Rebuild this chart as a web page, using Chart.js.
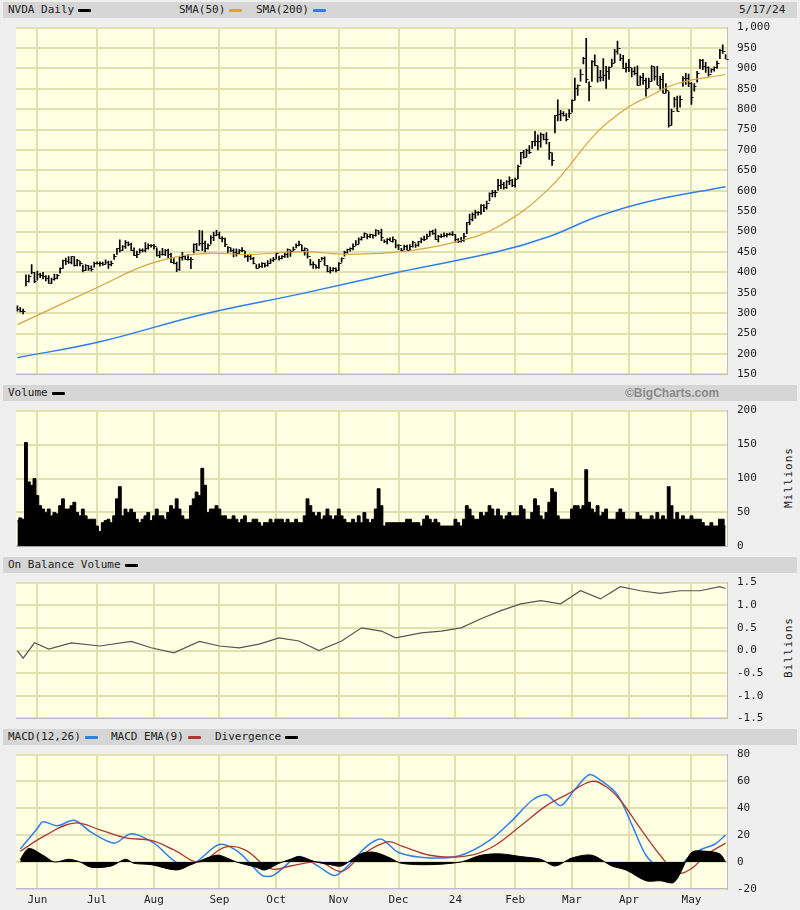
<!DOCTYPE html>
<html>
<head>
<meta charset="utf-8">
<script src="https://cdn.jsdelivr.net/npm/chart.js@4.4.1/dist/chart.umd.min.js"></script>
<style>
  body { margin:0; width:800px; height:910px; background:#efefef; position:relative; overflow:hidden;
         font-family:"DejaVu Sans Mono", monospace; font-size:11px; color:#222; }
  .hdr { position:absolute; left:3px; width:794px; height:16px; background:#d6d6d6; line-height:16px; }
  .hdr span { position:absolute; top:0; white-space:nowrap; }
  .sw { display:inline-block; width:13px; height:3px; vertical-align:middle; margin-left:4px; border-radius:1px; }
  .pan { position:absolute; left:0; width:800px; }
  .unit { position:absolute; left:782px; transform:rotate(-90deg); transform-origin:left top; font-size:11px; letter-spacing:1px; }
</style>
</head>
<body>
<div class="hdr" style="top:2px">
  <span style="left:5px">NVDA Daily<i class="sw" style="background:#000"></i></span>
  <span style="left:176px">SMA(50)<i class="sw" style="background:#d6a444"></i></span>
  <span style="left:253px">SMA(200)<i class="sw" style="background:#2f7fe8"></i></span>
  <span style="left:736px">5/17/24</span>
</div>
<div class="hdr" style="top:385px">
  <span style="left:5px">Volume<i class="sw" style="background:#000"></i></span>
  <span style="left:622px;font-family:Arial, sans-serif;font-weight:bold;color:#8a8a8a;font-size:12px">©BigCharts.com</span>
</div>
<div class="hdr" style="top:557px">
  <span style="left:5px">On Balance Volume<i class="sw" style="background:#000"></i></span>
</div>
<div class="hdr" style="top:729px">
  <span style="left:5px">MACD(12,26)<i class="sw" style="background:#2f7fe8"></i></span>
  <span style="left:108px">MACD EMA(9)<i class="sw" style="background:#a83a32"></i></span>
  <span style="left:212px">Divergence<i class="sw" style="background:#000"></i></span>
</div>
<div class="unit" style="top:508px">Millions</div>
<div class="unit" style="top:678px">Billions</div>

<canvas id="cPrice" class="pan" style="top:11px;height:380px" width="800" height="380"></canvas>
<canvas id="cVol" class="pan" style="top:394px;height:169px" width="800" height="169"></canvas>
<canvas id="cObv" class="pan" style="top:566px;height:169px" width="800" height="169"></canvas>
<canvas id="cMacd" class="pan" style="top:738px;height:174px" width="800" height="174"></canvas>

<script>
/* ── Datos: sesiones agrupadas por mes (may-23 .. may-24) ── */
const monthLabels = ['', 'Jun', 'Jul', 'Aug', 'Sep', 'Oct', 'Nov', 'Dec', '24', 'Feb', 'Mar', 'Apr', 'May'];

const closes = [
  [311,306,305,380,390,401,378],
  [397,393,391,386,375,385,387,394,410,430,427,426,439,419,430,422,406,419,411,408,423],
  [424,423,421,425,421,424,439,459,454,464,474,470,455,443,446,456,455,459,467,467],
  [465,442,445,446,454,446,425,423,408,437,439,434,433,432,469,456,471,471,460,468,487,492,493],
  [485,485,470,462,455,451,448,454,455,439,439,435,422,410,416,422,419,424,430,434],
  [447,435,440,446,457,452,457,468,469,454,460,439,421,421,413,429,436,418,403,405,411,407],
  [423,435,450,457,459,465,469,483,486,496,488,494,492,504,499,487,477,482,478,481,467],
  [467,455,465,455,465,475,466,476,481,483,488,501,496,481,489,488,492,494,495,495],
  [481,476,480,490,523,531,543,548,547,564,561,571,595,596,598,613,616,610,624,627,615],
  [630,662,694,683,700,696,721,723,721,739,726,726,694,675,785,788,791,787,776,791],
  [822,852,859,887,926,875,857,919,908,879,878,884,893,903,914,942,950,925,902,903],
  [903,894,889,859,880,871,853,870,906,881,860,874,840,846,762,795,824,796,826,877,877,864],
  [830,858,888,921,905,904,887,898,903,913,946,943,924]
];
const highs = [
  [318,314,310,394,394,419,400],
  [403,398,400,392,392,386,396,395,411,430,435,439,439,439,432,427,418,419,417,416,425],
  [426,426,425,431,428,428,444,459,480,466,478,475,472,460,452,458,458,473,470,468],
  [469,460,452,459,456,457,447,434,425,438,449,442,444,437,470,471,503,502,477,470,490,499,503],
  [499,488,484,463,460,458,458,456,461,452,442,443,437,419,421,424,423,429,433,437],
  [448,440,441,448,458,454,462,470,477,467,460,456,432,426,418,432,437,438,417,413,412,411],
  [424,436,452,457,460,470,478,485,488,497,494,494,493,505,502,506,480,483,485,487,479],
  [469,459,467,467,468,477,470,476,485,489,494,501,504,506,491,494,497,496,497,500],
  [492,483,486,496,523,543,546,553,549,566,566,575,595,601,601,628,627,621,625,634,628],
  [631,663,694,699,702,711,721,746,737,742,739,743,719,693,785,823,797,794,789,799],
  [823,876,860,897,927,974,867,919,933,906,895,924,905,904,923,947,967,935,932,913],
  [922,900,903,906,882,888,876,876,907,903,905,881,888,863,843,800,829,832,833,880,888,886],
  [865,863,893,922,922,915,904,899,904,918,947,958,934]
];
const lows = [
  [305,303,298,367,376,396,375],
  [381,387,384,379,373,373,381,384,398,410,419,422,421,415,416,416,401,404,405,403,413],
  [420,415,417,420,410,416,432,444,450,454,459,465,453,441,436,447,450,450,457,462],
  [457,440,436,442,441,434,424,421,402,405,430,432,430,409,448,453,466,453,450,457,469,478,490],
  [483,475,463,449,451,438,440,445,451,437,427,431,421,410,411,412,413,415,422,427],
  [433,430,433,437,437,439,451,460,465,453,442,435,418,410,410,410,430,417,401,398,403,401],
  [404,425,440,447,452,455,466,469,479,486,482,485,484,489,493,478,473,470,477,474,460],
  [456,451,456,454,453,462,461,464,472,478,482,489,493,481,475,485,487,487,491,490],
  [474,473,474,476,495,517,526,532,540,542,549,555,575,585,585,601,605,604,606,615,610],
  [609,630,665,680,683,691,704,710,700,707,725,715,677,662,742,771,772,783,771,780],
  [793,822,834,869,911,865,820,868,906,866,869,870,851,873,904,914,935,919,900,891],
  [892,879,884,858,859,861,832,853,869,871,860,849,839,840,756,761,805,795,805,856,861,855],
  [812,844,866,900,897,890,881,890,893,900,924,937,923]
];
// volumen diario, millones
const volumes = [
  [38,42,40,153,95,90,100],
  [75,60,55,50,55,45,50,48,60,70,55,55,60,65,50,45,55,45,40,40,40],
  [30,22,35,38,40,35,45,70,88,45,55,50,55,50,40,35,40,45,50,38],
  [45,55,45,45,40,50,60,55,70,55,45,40,40,60,70,80,75,115,90,50,55,55,60],
  [55,45,45,40,40,45,40,35,40,45,35,35,40,40,35,30,35,35,40,35],
  [40,40,40,35,40,35,35,40,35,35,45,70,60,50,45,50,40,45,55,45,40,45],
  [55,45,40,35,35,40,35,45,35,50,40,35,40,55,85,60,30,35,35,35,35],
  [35,35,35,40,40,35,35,35,30,40,45,40,35,40,35,30,30,30,30,30],
  [40,35,30,40,60,55,45,40,40,50,45,50,60,55,45,55,45,40,45,50,45],
  [45,45,60,55,40,40,50,70,60,45,40,50,65,85,80,45,40,40,40,40],
  [55,60,60,55,60,113,65,55,50,60,45,50,55,40,40,40,50,55,50,40],
  [40,40,40,50,45,40,40,40,45,40,50,40,45,40,88,60,40,50,40,45,40,40],
  [45,40,40,40,35,30,30,35,30,30,40,40,30]
];

// medias móviles (índice de sesión, valor)
const sma50Day  = [0, 29, 47, 65, 82, 100, 117, 135, 152, 169, 187, 204, 215, 222, 232, 249];
const sma50Val  = [272, 366, 422, 446, 444, 451, 444, 451, 471, 512, 606, 745, 806, 831, 863, 885];
const sma200Day = [0, 29, 65, 100, 135, 169, 187, 204, 222, 249];
const sma200Val = [191, 230, 297, 348, 402, 451, 488, 537, 574, 610];

// OBV en miles de millones
const obvDay = [0, 2, 6, 11, 19, 29, 40, 47, 55, 64, 71, 78, 85, 92, 99, 106, 114, 121, 128, 133, 142, 149, 156, 163, 170, 177, 184, 191, 198, 205, 212, 219, 226, 233, 240, 247, 249];
const obvVal = [-0.01, -0.17, 0.17, 0.03, 0.17, 0.1, 0.2, 0.06, -0.05, 0.2, 0.1, 0.06, 0.14, 0.28, 0.21, 0.0, 0.21, 0.5, 0.43, 0.28, 0.39, 0.43, 0.5, 0.7, 0.88, 1.03, 1.1, 1.03, 1.32, 1.14, 1.41, 1.32, 1.26, 1.32, 1.32, 1.41, 1.37];

// MACD
const macdDay = [1, 7, 9, 14, 20, 26, 34, 40, 48, 56, 62, 71, 78, 86, 90, 99, 106, 112, 123, 128, 134, 145, 156, 166, 174, 181, 186, 191, 196, 201, 205, 211, 216, 221, 226, 230, 235, 240, 245, 249];
const macdVal = [9.7, 25, 30, 27, 31, 22, 14, 21, 14, -0.5, -1, 13, 7, -10, -10, 4, -3.5, -10, 12, 17, 7, 3, 5, 16, 31, 46, 50, 42, 54, 65, 61, 50, 28, 5, -6, -13, 1.5, 9, 13, 20];
const signalDay = [1, 10, 20, 29, 38, 47, 55, 64, 73, 80, 89, 96, 106, 114, 121, 130, 135, 145, 156, 166, 177, 186, 193, 202, 207, 212, 219, 226, 232, 237, 242, 249];
const signalVal = [8, 20, 29, 24, 18, 16, 9, 0, 11, 9, -5, -3, 0, -7, 5, 15, 12, 5, 4, 10, 27, 42, 50, 60, 56, 46, 25, 5, -8, -5, 5, 14];
const divDay = [1, 4, 9, 13, 18, 22, 26, 33, 38, 41, 47, 56, 61, 68, 71, 77, 84, 87, 92, 96, 99, 105, 110, 114, 119, 122, 126, 131, 135, 145, 156, 163, 170, 177, 184, 189, 195, 202, 209, 214, 221, 226, 231, 237, 242, 247, 249];
const divVal = [2, 10, 5, 0, 2, 0, -4, -3, 2, -1, -2, -6, -2, 4, 5, 0, -4, -6, -1, 2, 4, 0, -2, -3, 4, 7, 7, 3, -1, -2, 0, 5, 6, 4, 2, -3, 3, 5, -3, -6, -14, -14, -15, 7, 8, 6, 0];

/* ── Preparación ── */
const cierre = closes.flat(), maximo = highs.flat(), minimo = lows.flat(), volumen = volumes.flat();
const inicioMes = [];
let acum = 0;
closes.forEach(m => { inicioMes.push(acum); acum += m.length; });
const N = cierre.length;
const pares = (xs, ys) => xs.map((x, i) => ({ x: x, y: ys[i] }));

const FONDO = '#ffffe3', REJILLA = '#e3e0b0';
const fuente = { family: 'DejaVu Sans Mono', size: 11 };

// fondo del área de trazado
const fondoPlugin = {
  id: 'fondo',
  beforeDraw(chart) {
    const a = chart.chartArea, ctx = chart.ctx;
    ctx.save();
    ctx.fillStyle = FONDO;
    ctx.fillRect(a.left, a.top, a.right - a.left, a.bottom - a.top);
    ctx.restore();
  }
};

// marca de cierre a la derecha de cada barra
const cierrePlugin = {
  id: 'cierre',
  afterDatasetsDraw(chart) {
    if (chart.canvas.id !== 'cPrice') return;
    const xs = chart.scales.x, ys = chart.scales.y, ctx = chart.ctx;
    ctx.save();
    ctx.strokeStyle = '#000';
    ctx.lineWidth = 1;
    cierre.forEach((c, i) => {
      const px = Math.round(xs.getPixelForValue(i)) + 0.5, py = Math.round(ys.getPixelForValue(c)) + 0.5;
      ctx.beginPath(); ctx.moveTo(px, py); ctx.lineTo(px + 2, py); ctx.stroke();
    });
    ctx.restore();
  }
};

function opciones(min, max, paso, fmt, conX) {
  return {
    responsive: false, animation: false,
    layout: { padding: { left: 16, top: 8, bottom: conX ? 0 : 8, right: 0 } },
    plugins: { legend: { display: false }, tooltip: { enabled: false } },
    scales: {
      x: {
        type: 'linear', min: -0.5, max: N - 0.5, offset: false,
        afterBuildTicks: ax => { ax.ticks = inicioMes.slice(1).map(v => ({ value: v })); },
        grid: { color: REJILLA, lineWidth: 2, drawTicks: false, offset: false },
        border: { color: '#bdbdbd' },
        ticks: {
          display: !!conX, font: fuente, color: '#222', padding: 5, maxRotation: 0, autoSkip: false,
          callback: v => monthLabels[inicioMes.indexOf(v)] || ''
        }
      },
      y: {
        position: 'right', min: min, max: max,
        afterFit: ax => { ax.width = 73; },
        afterBuildTicks: ax => {
          const t = [];
          for (let v = min; v <= max + 1e-9; v += paso) t.push({ value: Math.round(v * 100) / 100 });
          ax.ticks = t;
        },
        grid: { color: REJILLA, lineWidth: 2, drawTicks: false },
        border: { color: '#bdbdbd' },
        ticks: { font: fuente, color: '#222', padding: 10, callback: fmt }
      }
    }
  };
}

/* ── Precio ── */
new Chart(document.getElementById('cPrice'), {
  data: {
    datasets: [
      { type: 'line', data: pares(sma200Day, sma200Val), borderColor: '#2f7fe8', borderWidth: 1.5, pointRadius: 0, tension: 0.4 },
      { type: 'line', data: pares(sma50Day, sma50Val), borderColor: '#d6a444', borderWidth: 1.2, pointRadius: 0, tension: 0.4 },
      { type: 'bar', data: cierre.map((c, i) => ({ x: i, y: [minimo[i], maximo[i]] })), backgroundColor: '#000', barThickness: 1 }
    ]
  },
  options: opciones(150, 1000, 50, v => v.toLocaleString('en-US'), false),
  plugins: [fondoPlugin, cierrePlugin]
});

/* ── Volumen ── */
new Chart(document.getElementById('cVol'), {
  type: 'line',
  data: { datasets: [{ data: volumen.map((v, i) => ({ x: i, y: v })), borderColor: '#000', backgroundColor: '#000', borderWidth: 1, pointRadius: 0, fill: 'origin', stepped: 'middle' }] },
  options: opciones(0, 200, 50, v => v, false),
  plugins: [fondoPlugin]
});

/* ── OBV ── */
new Chart(document.getElementById('cObv'), {
  type: 'line',
  data: { datasets: [{ data: pares(obvDay, obvVal), borderColor: '#555', borderWidth: 1.2, pointRadius: 0 }] },
  options: opciones(-1.5, 1.5, 0.5, v => v.toFixed(1), false),
  plugins: [fondoPlugin]
});

/* ── MACD ── */
new Chart(document.getElementById('cMacd'), {
  type: 'line',
  data: {
    datasets: [
      { data: pares(divDay, divVal), borderColor: '#000', backgroundColor: '#000', borderWidth: 1, pointRadius: 0, fill: 'origin', tension: 0.3 },
      { data: pares(signalDay, signalVal), borderColor: '#a83a32', borderWidth: 1.3, pointRadius: 0, tension: 0.4 },
      { data: pares(macdDay, macdVal), borderColor: '#2f7fe8', borderWidth: 1.5, pointRadius: 0, tension: 0.3 }
    ]
  },
  options: opciones(-20, 80, 20, v => v, true),
  plugins: [fondoPlugin]
});
</script>
</body>
</html>
